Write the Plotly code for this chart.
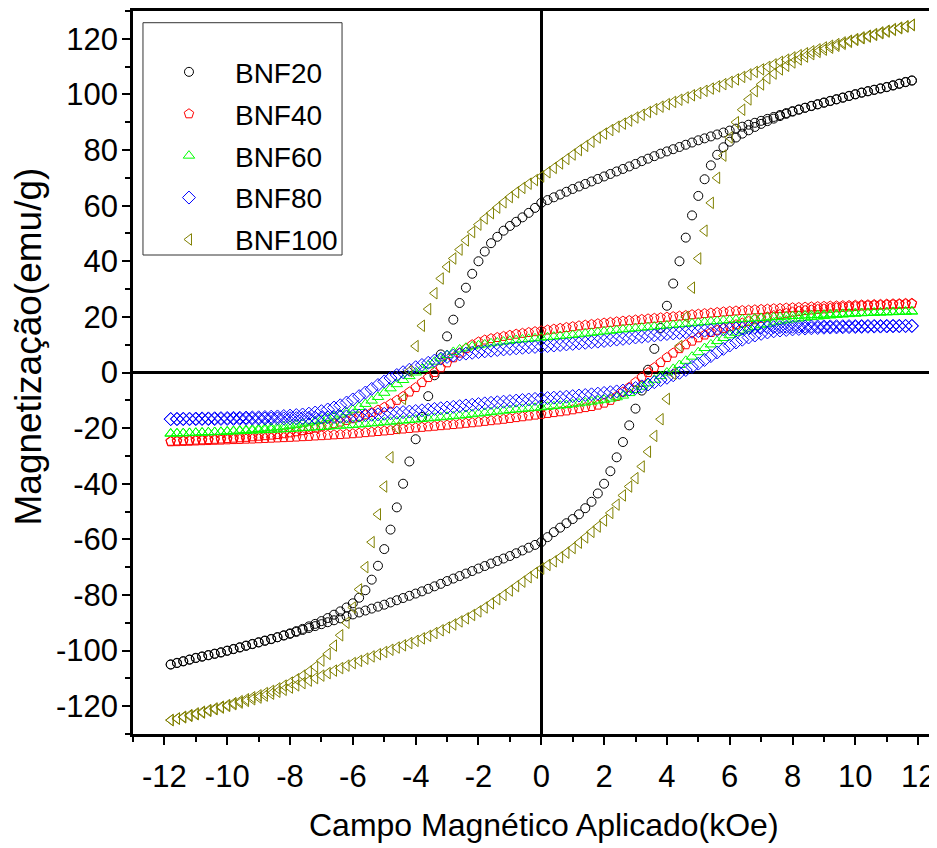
import plotly.graph_objects as go

# Applied field (kOe), same grid for every sweep
FIELD = [-11.8, -11.6, -11.4, -11.2, -11.0, -10.8, -10.6, -10.4, -10.2, -10.0,
         -9.8, -9.6, -9.4, -9.2, -9.0, -8.8, -8.6, -8.4, -8.2, -8.0,
         -7.8, -7.6, -7.4, -7.2, -7.0, -6.8, -6.6, -6.4, -6.2, -6.0,
         -5.8, -5.6, -5.4, -5.2, -5.0, -4.8, -4.6, -4.4, -4.2, -4.0,
         -3.8, -3.6, -3.4, -3.2, -3.0, -2.8, -2.6, -2.4, -2.2, -2.0,
         -1.8, -1.6, -1.4, -1.2, -1.0, -0.8, -0.6, -0.4, -0.2, 0.0,
         0.2, 0.4, 0.6, 0.8, 1.0, 1.2, 1.4, 1.6, 1.8, 2.0,
         2.2, 2.4, 2.6, 2.8, 3.0, 3.2, 3.4, 3.6, 3.8, 4.0,
         4.2, 4.4, 4.6, 4.8, 5.0, 5.2, 5.4, 5.6, 5.8, 6.0,
         6.2, 6.4, 6.6, 6.8, 7.0, 7.2, 7.4, 7.6, 7.8, 8.0,
         8.2, 8.4, 8.6, 8.8, 9.0, 9.2, 9.4, 9.6, 9.8, 10.0,
         10.2, 10.4, 10.6, 10.8, 11.0, 11.2, 11.4, 11.6, 11.8]

# Upper branch (field sweeping down) and lower branch (field sweeping up), emu/g, listed at FIELD
BNF20_UP = [-105, -104.5, -103.9, -103.3, -102.7, -102.2, -101.7, -101.2, -100.7, -100.1,
            -99.5, -98.9, -98.3, -97.7, -97.1, -96.5, -95.9, -95.2, -94.5, -93.8,
            -93, -92.2, -91.3, -90.4, -89.4, -88.3, -87.1, -85.9, -84.5, -83,
            -81, -78.3, -74.5, -69.5, -63.5, -56.5, -48.5, -40, -32, -24,
            -16, -8.5, -1, 6.5, 13, 19, 25, 30.5, 35.5, 40,
            43.5, 46.5, 48.8, 51, 52.7, 54.2, 55.8, 57.4, 59.2, 61,
            62, 63, 64, 65, 66, 66.9, 67.8, 68.7, 69.6, 70.5,
            71.4, 72.3, 73.2, 74.1, 75, 76, 76.9, 77.8, 78.7, 79.5,
            80.3, 81.1, 81.9, 82.7, 83.5, 84.2, 84.9, 85.6, 86.3, 87,
            87.7, 88.4, 89.1, 89.8, 90.5, 91.2, 91.9, 92.6, 93.3, 94,
            94.6, 95.2, 95.8, 96.4, 97, 97.6, 98.2, 98.8, 99.4, 100,
            100.6, 101.1, 101.6, 102.1, 102.6, 103.2, 103.8, 104.4, 105]
BNF20_LO = [-105, -104.4, -103.8, -103.2, -102.6, -102.1, -101.6, -101.1, -100.6, -100,
            -99.4, -98.8, -98.2, -97.6, -97, -96.4, -95.8, -95.2, -94.6, -94,
            -93.3, -92.6, -91.9, -91.2, -90.5, -89.8, -89.1, -88.4, -87.7, -87,
            -86.3, -85.6, -84.9, -84.2, -83.5, -82.7, -81.9, -81.1, -80.3, -79.5,
            -78.7, -77.8, -76.9, -76, -75, -74.1, -73.2, -72.3, -71.4, -70.5,
            -69.6, -68.7, -67.8, -66.9, -66, -65, -64, -63, -62, -61,
            -59.2, -57.4, -55.8, -54.2, -52.7, -51, -48.8, -46.5, -43.5, -40,
            -35.5, -30.5, -25, -19, -13, -6.5, 1, 8.5, 16, 24,
            32, 40, 48.5, 56.5, 63.5, 69.5, 74.5, 78.3, 81, 83,
            84.5, 85.9, 87.1, 88.3, 89.4, 90.4, 91.3, 92.2, 93, 93.8,
            94.5, 95.2, 95.9, 96.5, 97.1, 97.7, 98.3, 98.9, 99.5, 100.1,
            100.7, 101.2, 101.7, 102.2, 102.7, 103.3, 103.9, 104.5, 105]

BNF40_UP = [-24.7, -24.6, -24.5, -24.4, -24.3, -24.2, -24.1, -24, -23.9, -23.75,
            -23.6, -23.45, -23.3, -23.1, -22.9, -22.7, -22.5, -22.3, -22, -21.7,
            -21.3, -20.9, -20.5, -20, -19.5, -19, -18.4, -17.8, -17.2, -16.6,
            -15.9, -15.2, -14.4, -13.5, -12.5, -11.3, -10, -8.6, -7, -5.4,
            -3.6, -1.8, 0, 1.7, 3.5, 5.3, 7, 8.6, 10, 11,
            11.7, 12.2, 12.6, 13, 13.4, 13.8, 14.1, 14.4, 14.7, 15,
            15.3, 15.6, 15.9, 16.2, 16.5, 16.8, 17.05, 17.3, 17.55, 17.8,
            18.05, 18.25, 18.5, 18.7, 18.9, 19.1, 19.3, 19.5, 19.7, 19.9,
            20.1, 20.3, 20.5, 20.8, 21, 21.2, 21.4, 21.6, 21.8, 22,
            22.15, 22.3, 22.4, 22.55, 22.7, 22.8, 22.95, 23.05, 23.2, 23.3,
            23.4, 23.5, 23.6, 23.7, 23.8, 23.9, 23.95, 24.05, 24.1, 24.2,
            24.3, 24.35, 24.45, 24.5, 24.6, 24.7, 24.75, 24.85, 24.9]
BNF40_LO = [-24.9, -24.85, -24.75, -24.7, -24.6, -24.5, -24.45, -24.35, -24.3, -24.2,
            -24.1, -24.05, -23.95, -23.9, -23.8, -23.7, -23.6, -23.5, -23.4, -23.3,
            -23.2, -23.05, -22.95, -22.8, -22.7, -22.55, -22.4, -22.3, -22.15, -22,
            -21.8, -21.6, -21.4, -21.2, -21, -20.8, -20.5, -20.3, -20.1, -19.9,
            -19.7, -19.5, -19.3, -19.1, -18.9, -18.7, -18.5, -18.25, -18.05, -17.8,
            -17.55, -17.3, -17.05, -16.8, -16.5, -16.2, -15.9, -15.6, -15.3, -15,
            -14.7, -14.4, -14.1, -13.8, -13.4, -13, -12.6, -12.2, -11.7, -11,
            -10, -8.6, -7, -5.3, -3.5, -1.7, 0, 1.8, 3.6, 5.4,
            7, 8.6, 10, 11.3, 12.5, 13.5, 14.4, 15.2, 15.9, 16.6,
            17.2, 17.8, 18.4, 19, 19.5, 20, 20.5, 20.9, 21.3, 21.7,
            22, 22.3, 22.5, 22.7, 22.9, 23.1, 23.3, 23.45, 23.6, 23.75,
            23.9, 24, 24.1, 24.2, 24.3, 24.4, 24.5, 24.6, 24.7]

BNF60_UP = [-22, -21.9, -21.85, -21.8, -21.7, -21.6, -21.5, -21.4, -21.3, -21.15,
            -21, -20.85, -20.7, -20.5, -20.3, -20.1, -19.9, -19.7, -19.4, -19.1,
            -18.8, -18.4, -18, -17.5, -17, -16.4, -15.8, -15.1, -14.3, -13.4,
            -12.4, -11.3, -10.1, -8.8, -7.3, -5.7, -4.2, -2.7, -1.3, 0,
            1.3, 2.6, 3.9, 5.1, 6.3, 7.4, 8.3, 8.9, 9.4, 9.8,
            10.1, 10.5, 10.8, 11.1, 11.4, 11.7, 11.9, 12.1, 12.3, 12.5,
            12.7, 12.9, 13.1, 13.3, 13.5, 13.75, 14, 14.25, 14.5, 14.75,
            15, 15.25, 15.5, 15.7, 15.9, 16.1, 16.3, 16.5, 16.7, 16.9,
            17.1, 17.3, 17.5, 17.7, 17.9, 18.1, 18.3, 18.5, 18.7, 18.85,
            19, 19.15, 19.3, 19.45, 19.6, 19.75, 19.9, 20, 20.15, 20.3,
            20.4, 20.5, 20.6, 20.7, 20.8, 20.9, 21, 21.1, 21.2, 21.3,
            21.4, 21.45, 21.5, 21.6, 21.65, 21.7, 21.8, 21.85, 21.9]
BNF60_LO = [-21.9, -21.85, -21.8, -21.7, -21.65, -21.6, -21.5, -21.45, -21.4, -21.3,
            -21.2, -21.1, -21, -20.9, -20.8, -20.7, -20.6, -20.5, -20.4, -20.3,
            -20.15, -20, -19.9, -19.75, -19.6, -19.45, -19.3, -19.15, -19, -18.85,
            -18.7, -18.5, -18.3, -18.1, -17.9, -17.7, -17.5, -17.3, -17.1, -16.9,
            -16.7, -16.5, -16.3, -16.1, -15.9, -15.7, -15.5, -15.25, -15, -14.75,
            -14.5, -14.25, -14, -13.75, -13.5, -13.3, -13.1, -12.9, -12.7, -12.5,
            -12.3, -12.1, -11.9, -11.7, -11.4, -11.1, -10.8, -10.5, -10.1, -9.8,
            -9.4, -8.9, -8.3, -7.4, -6.3, -5.1, -3.9, -2.6, -1.3, 0,
            1.3, 2.7, 4.2, 5.7, 7.3, 8.8, 10.1, 11.3, 12.4, 13.4,
            14.3, 15.1, 15.8, 16.4, 17, 17.5, 18, 18.4, 18.8, 19.1,
            19.4, 19.7, 19.9, 20.1, 20.3, 20.5, 20.7, 20.85, 21, 21.15,
            21.3, 21.4, 21.5, 21.6, 21.7, 21.8, 21.85, 21.9, 22]

BNF80_UP = [-16.7, -16.65, -16.6, -16.6, -16.55, -16.5, -16.5, -16.45, -16.4, -16.35,
            -16.3, -16.25, -16.2, -16.15, -16.1, -16, -15.9, -15.8, -15.65, -15.5,
            -15.3, -15.1, -14.8, -14.4, -13.9, -13.3, -12.6, -11.8, -10.8, -9.7,
            -8.5, -7.2, -5.9, -4.5, -3.2, -2, -0.9, 0.1, 1, 1.9,
            2.7, 3.5, 4.3, 5, 5.6, 6.1, 6.5, 6.8, 7.1, 7.35,
            7.6, 7.85, 8.1, 8.3, 8.5, 8.7, 8.9, 9.05, 9.2, 9.3,
            9.5, 9.7, 9.9, 10.1, 10.3, 10.5, 10.7, 10.9, 11.1, 11.35,
            11.6, 11.85, 12.1, 12.35, 12.6, 12.85, 13.1, 13.35, 13.6, 13.85,
            14.05, 14.25, 14.45, 14.65, 14.85, 15.05, 15.2, 15.35, 15.5, 15.65,
            15.8, 15.9, 16, 16.1, 16.2, 16.25, 16.3, 16.35, 16.4, 16.45,
            16.5, 16.5, 16.55, 16.55, 16.6, 16.6, 16.65, 16.65, 16.7, 16.7,
            16.7, 16.75, 16.75, 16.75, 16.8, 16.8, 16.8, 16.8, 16.8]
BNF80_LO = [-16.8, -16.8, -16.8, -16.8, -16.8, -16.75, -16.75, -16.75, -16.7, -16.7,
            -16.7, -16.65, -16.65, -16.6, -16.6, -16.55, -16.55, -16.5, -16.5, -16.45,
            -16.4, -16.35, -16.3, -16.25, -16.2, -16.1, -16, -15.9, -15.8, -15.65,
            -15.5, -15.35, -15.2, -15.05, -14.85, -14.65, -14.45, -14.25, -14.05, -13.85,
            -13.6, -13.35, -13.1, -12.85, -12.6, -12.35, -12.1, -11.85, -11.6, -11.35,
            -11.1, -10.9, -10.7, -10.5, -10.3, -10.1, -9.9, -9.7, -9.5, -9.3,
            -9.2, -9.05, -8.9, -8.7, -8.5, -8.3, -8.1, -7.85, -7.6, -7.35,
            -7.1, -6.8, -6.5, -6.1, -5.6, -5, -4.3, -3.5, -2.7, -1.9,
            -1, -0.1, 0.9, 2, 3.2, 4.5, 5.9, 7.2, 8.5, 9.7,
            10.8, 11.8, 12.6, 13.3, 13.9, 14.4, 14.8, 15.1, 15.3, 15.5,
            15.65, 15.8, 15.9, 16, 16.1, 16.15, 16.2, 16.25, 16.3, 16.35,
            16.4, 16.45, 16.5, 16.5, 16.55, 16.6, 16.6, 16.65, 16.7]

BNF100_UP = [-125, -124.4, -123.8, -123.2, -122.6, -122, -121.4, -120.8, -120.2, -119.6,
             -118.9, -118.2, -117.5, -116.8, -116.1, -115.3, -114.5, -113.6, -112.6, -111.5,
             -110.3, -109, -107.5, -105.8, -103.6, -101.2, -98.2, -94.5, -90, -84.5,
             -78, -70, -61, -51, -41, -30.5, -20, -9.5, 0.5, 9.5,
             16.8, 22.8, 28.5, 33.8, 38, 41, 44.2, 47.5, 50.5, 53.2,
             55.4, 57.3, 59.3, 61.2, 63.1, 64.8, 66.4, 67.9, 69.2, 70.5,
             72, 73.6, 75.2, 76.8, 78.4, 80, 81.5, 83, 84.5, 85.9,
             87.2, 88.4, 89.5, 90.6, 91.7, 92.7, 93.7, 94.7, 95.6, 96.5,
             97.3, 98.1, 98.9, 99.7, 100.5, 101.3, 102.1, 102.9, 103.7, 104.5,
             105.4, 106.3, 107.2, 108.1, 109, 109.9, 110.8, 111.7, 112.5, 113.3,
             114.1, 114.8, 115.5, 116.2, 116.9, 117.5, 118.1, 118.7, 119.3, 119.9,
             120.5, 121.1, 121.7, 122.3, 122.9, 123.5, 124, 124.5, 125]
BNF100_LO = [-125, -124.5, -124, -123.5, -122.9, -122.3, -121.7, -121.1, -120.5, -119.9,
             -119.3, -118.7, -118.1, -117.5, -116.9, -116.2, -115.5, -114.8, -114.1, -113.3,
             -112.5, -111.7, -110.8, -109.9, -109, -108.1, -107.2, -106.3, -105.4, -104.5,
             -103.7, -102.9, -102.1, -101.3, -100.5, -99.7, -98.9, -98.1, -97.3, -96.5,
             -95.6, -94.7, -93.7, -92.7, -91.7, -90.6, -89.5, -88.4, -87.2, -85.9,
             -84.5, -83, -81.5, -80, -78.4, -76.8, -75.2, -73.6, -72, -70.5,
             -69.2, -67.9, -66.4, -64.8, -63.1, -61.2, -59.3, -57.3, -55.4, -53.2,
             -50.5, -47.5, -44.2, -41, -38, -33.8, -28.5, -22.8, -16.8, -9.5,
             -0.5, 9.5, 20, 30.5, 41, 51, 61, 70, 78, 84.5,
             90, 94.5, 98.2, 101.2, 103.6, 105.8, 107.5, 109, 110.3, 111.5,
             112.6, 113.6, 114.5, 115.3, 116.1, 116.8, 117.5, 118.2, 118.9, 119.6,
             120.2, 120.8, 121.4, 122, 122.6, 123.2, 123.8, 124.4, 125]

SERIES_NAMES = ["BNF20", "BNF40", "BNF60", "BNF80", "BNF100"]
UPPER = [BNF20_UP, BNF40_UP, BNF60_UP, BNF80_UP, BNF100_UP]
LOWER = [BNF20_LO, BNF40_LO, BNF60_LO, BNF80_LO, BNF100_LO]

X_TICKS = [-12, -10, -8, -6, -4, -2, 0, 2, 4, 6, 8, 10, 12]
X_TICK_LABELS = ["-12", "-10", "-8", "-6", "-4", "-2", "0", "2", "4", "6", "8", "10", "12"]
Y_TICKS = [-120, -100, -80, -60, -40, -20, 0, 20, 40, 60, 80, 100, 120]
Y_TICK_LABELS = ["-120", "-100", "-80", "-60", "-40", "-20", "0", "20", "40", "60", "80", "100", "120"]
X_TITLE = "Campo Magnético Aplicado(kOe)"
Y_TITLE = "Magnetização(emu/g)"

for arr in UPPER + LOWER:
    assert len(arr) == len(FIELD), len(arr)

COLORS = ["#000000", "#ff0000", "#00ff00", "#0000ff", "#808000"]
SYMBOLS = ["circle-open", "pentagon-open", "triangle-up-open", "diamond-open", "triangle-left-open"]
SIZES = [9, 10, 10, 10, 10]

FONT = "Liberation Sans, Arial, sans-serif"

fig = go.Figure()
for name, up, lo, c, s, sz in zip(SERIES_NAMES, UPPER, LOWER, COLORS, SYMBOLS, SIZES):
    fig.add_trace(go.Scatter(
        x=FIELD + FIELD, y=up + lo, mode="markers", name=name,
        legendgroup=name,
        marker=dict(symbol=s, size=sz, color=c, line=dict(color=c, width=1)),
    ))

axis_common = dict(
    showgrid=False, showline=True, linecolor="black", linewidth=2.5,
    ticks="outside", ticklen=8, tickwidth=2, tickcolor="black",
    zeroline=True, zerolinecolor="black", zerolinewidth=2.5,
    tickfont=dict(family=FONT, size=31, color="black"),
    automargin=False,
)

# legend frame (decoration only)
fig.add_shape(type="rect", xref="paper", yref="paper",
              x0=0.0124, x1=0.26, y0=0.6625, y1=0.9838,
              line=dict(color="#333333", width=1), fillcolor="rgba(0,0,0,0)", layer="above")

# axis titles placed as annotations (positions in plot-area fractions)
fig.add_annotation(text=X_TITLE, xref="paper", yref="paper", x=0.511, y=-0.1259,
                   xanchor="center", yanchor="middle", showarrow=False,
                   font=dict(family=FONT, size=32, color="black"))
fig.add_annotation(text=Y_TITLE, xref="paper", yref="paper", x=-0.13, y=0.5366,
                   xanchor="center", yanchor="middle", showarrow=False, textangle=-90,
                   font=dict(family=FONT, size=37, color="black"))

fig.update_layout(
    width=929, height=840,
    margin=dict(l=125, r=0, t=3, b=114),
    paper_bgcolor="white", plot_bgcolor="white",
    font=dict(family=FONT, color="black"),
    showlegend=True,
    legend=dict(
        x=0.0124, y=0.95, xanchor="left", yanchor="top",
        bgcolor="rgba(0,0,0,0)", borderwidth=0,
        font=dict(family=FONT, size=28, color="black"),
        tracegroupgap=2.5, itemsizing="trace", itemwidth=82,
    ),
    xaxis=dict(
        range=[-13, 12.6], tickvals=X_TICKS, ticktext=X_TICK_LABELS,
        mirror=True, ticklabelstandoff=5,
        minor=dict(dtick=1, tick0=0, ticks="outside", ticklen=5, tickwidth=2, tickcolor="black"),
        **axis_common,
    ),
    yaxis=dict(
        range=[-130, 130], tickvals=Y_TICKS, ticktext=Y_TICK_LABELS,
        ticklabelstandoff=-2,
        minor=dict(dtick=10, tick0=0, ticks="outside", ticklen=5, tickwidth=2, tickcolor="black"),
        **axis_common,
    ),
)

fig.write_html("out.html")
